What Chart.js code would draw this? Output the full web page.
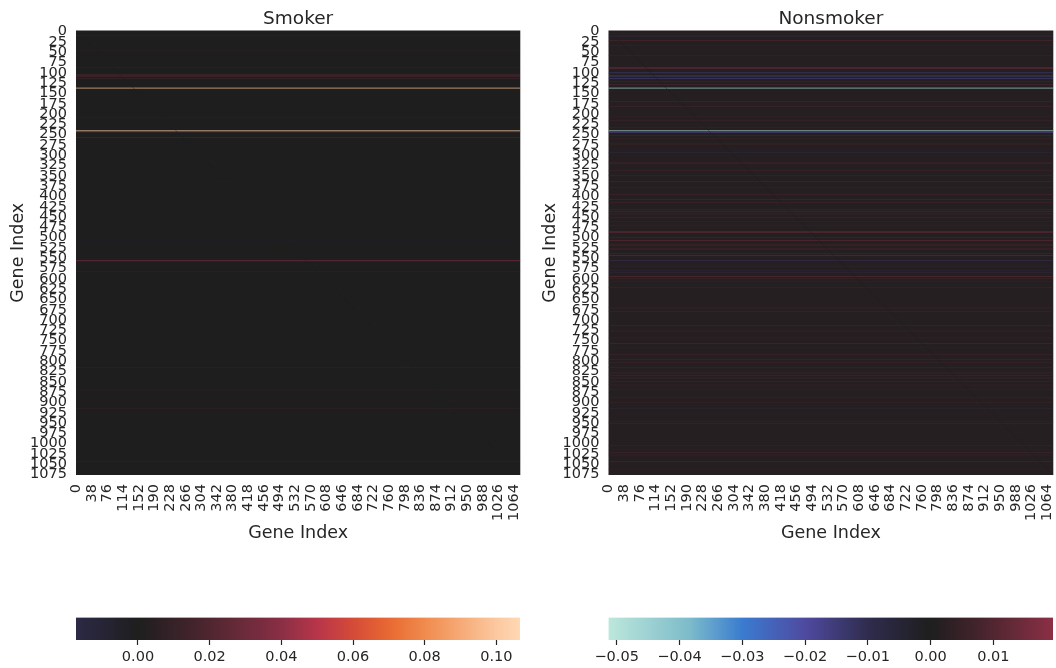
<!DOCTYPE html>
<html>
<head>
<meta charset="utf-8">
<script src="https://cdn.jsdelivr.net/npm/chart.js@4"></script>
<style>
  html, body { margin: 0; background: #fff; overflow: hidden; }
  canvas { position: absolute; }
</style>
</head>
<body>
<canvas id="smoker-map" width="541" height="546" style="left:0;top:0"></canvas>
<canvas id="nonsmoker-map" width="542" height="546" style="left:532px;top:0"></canvas>
<canvas id="smoker-bar" width="530" height="68" style="left:0;top:600px"></canvas>
<canvas id="nonsmoker-bar" width="523" height="68" style="left:532px;top:600px"></canvas>
<script>
const rowTicks = [0,25,50,75,100,125,150,175,200,225,250,275,300,325,350,375,400,425,450,475,500,525,550,575,600,625,650,675,700,725,750,775,800,825,850,875,900,925,950,975,1000,1025,1050,1075]
const colTicks = [0,38,76,114,152,190,228,266,304,342,380,418,456,494,532,570,608,646,684,722,760,798,836,874,912,950,988,1026,1064]
const geneCount = 1079

const smokerRows = [11,48,90,107,110,115,139,140,210,243,244,246,260,319,367,489,509,558,559,584,818,870,873,898,918,1046]
const smokerValues = [0.01,0.005,0.01,0.02,0.04,0.028,0.106,0.09,0.006,0.106,0.07,0.025,0.02,0.006,0.006,-0.005,-0.01,0.04,0.02,0.008,0.01,0.012,0.008,0.008,0.018,0.018]

const nonsmokerRows = [7,13,23,35,60,90,91,102,103,110,115,116,124,131,139,140,172,184,208,218,234,243,244,247,254,262,
  275,295,321,340,352,367,380,397,409,417,433,439,445,453,464,472,488,490,502,510,520,530,541,
  545,558,571,583,586,596,601,609,624,673,681,697,716,729,746,760,770,786,798,806,
  817,831,837,843,851,860,870,890,902,918,949,954,961,981,1007,1017,1024,1030,1046,1054,1066]
const nonsmokerValues = [0.008,-0.012,0.011,0.009,0.006,0.015,0.014,-0.015,-0.012,-0.024,-0.018,-0.015,0.008,0.01,-0.05,-0.04,0.008,0.008,0.007,0.007,0.008,-0.05,-0.025,-0.02,-0.015,0.01,
  0.008,-0.009,0.012,0.007,0.007,-0.014,0.006,0.008,0.01,0.007,0.014,0.011,0.009,0.008,0.008,0.008,0.014,0.014,0.009,0.014,0.012,0.011,0.009,
  0.015,-0.012,-0.007,-0.01,-0.012,0.014,0.006,0.007,0.006,0.007,0.007,0.004,0.013,0.007,0.006,0.011,0.006,0.007,0.008,0.006,
  -0.009,0.008,0.008,0.008,0.007,0.006,-0.01,0.008,0.006,-0.012,0.007,0.007,0.004,0.003,0.006,0.006,0.008,0.006,-0.014,0.004,0.004]

// level behind the listed rows
const smokerBase = 0
const nonsmokerBase = 0.0015

// self comparison runs corner to corner
const diagonalGenes = [0, 1079]

const smokerBarTicks = [0, 0.02, 0.04, 0.06, 0.08, 0.1]
const nonsmokerBarTicks = [-0.05, -0.04, -0.03, -0.02, -0.01, 0, 0.01]
const smokerLimits = [-0.0173, 0.1066]
const nonsmokerLimits = [-0.0513, 0.0195]

// icefire, by eye
const cmapStops = [0, 0.125, 0.208, 0.305, 0.4025, 0.5, 0.594, 0.688, 0.7345, 0.78, 0.83, 0.875, 0.97, 1]
const cmapColors = ['#bde7db', '#7dbcca', '#3a7bd0', '#4f4aa0', '#2f2c4e', '#1e1e1e', '#4f2630', '#8a2f45', '#b8354a', '#d44a38', '#e96a32', '#f08b4d', '#fcc9a0', '#ffd8b4']

const textColor = '#262626'
Chart.defaults.font.family = '"DejaVu Sans"'
Chart.defaults.color = textColor
Chart.defaults.animation = false

function hexToRgb(hex) {
  return [1, 3, 5].map(i => parseInt(hex.slice(i, i + 2), 16))
}

function cmap(t) {
  let i = 0
  while (i < cmapStops.length - 2 && t > cmapStops[i + 1]) i++
  const f = Math.max(0, Math.min(1, (t - cmapStops[i]) / (cmapStops[i + 1] - cmapStops[i])))
  const a = hexToRgb(cmapColors[i])
  const b = hexToRgb(cmapColors[i + 1])
  return `rgb(${a.map((c, k) => Math.round(c + (b[k] - c) * f)).join(',')})`
}

// seaborn centers the map on 0, range is the larger limit
function colorFor(value, range) {
  return cmap(0.5 + value / (2 * range))
}

function heatmap(id, title, rows, values, base, range, axisWidth) {
  const plotBackground = {
    id: 'plotBackground',
    beforeDatasetsDraw(chart) {
      const a = chart.chartArea
      chart.ctx.fillStyle = colorFor(base, range)
      chart.ctx.fillRect(a.left, a.top, a.width, a.height)
    }
  }
  return new Chart(document.getElementById(id), {
    type: 'bar',
    data: {
      datasets: [{
        type: 'line',
        data: diagonalGenes.map(v => ({ x: v, y: v })),
        borderColor: 'rgba(30, 30, 30, 0.8)',
        borderWidth: 0.6,
        pointRadius: 0,
        order: 0
      }, {
        data: rows.map(r => ({ y: r + 0.5, x: [0, geneCount] })),
        backgroundColor: values.map(v => colorFor(v, range)),
        borderWidth: 0,
        inflateAmount: 0,
        barThickness: 444 / geneCount,
        order: 1
      }]
    },
    options: {
      indexAxis: 'y',
      responsive: false,
      layout: { autoPadding: false },
      plugins: {
        legend: { display: false },
        tooltip: { enabled: false },
        title: { display: true, fullSize: false, text: title, font: { size: 18.5, weight: 'normal' }, color: textColor, padding: { top: 8.3, bottom: 0 } }
      },
      scales: {
        x: {
          type: 'linear',
          min: 0,
          max: geneCount,
          offset: false,
          grid: { display: false, drawTicks: false },
          border: { display: false },
          title: { display: true, text: 'Gene Index', font: { size: 17.5 }, color: textColor, padding: { top: 0, bottom: 2 } },
          afterFit(scale) { scale.height = 71 },
          afterBuildTicks(scale) { scale.ticks = colTicks.map(v => ({ value: v + 0.5 })) },
          ticks: {
            autoSkip: false,
            minRotation: 90,
            maxRotation: 90,
            padding: 9,
            font: { size: 14.5 },
            callback: value => String(value - 0.5)
          }
        },
        y: {
          type: 'linear',
          reverse: true,
          min: 0,
          max: geneCount,
          offset: false,
          grid: { display: false, drawTicks: false },
          border: { display: false },
          title: { display: true, text: 'Gene Index', font: { size: 17.5 }, color: textColor, padding: { top: 8, bottom: 0 } },
          afterFit(scale) { scale.width = axisWidth },
          afterBuildTicks(scale) { scale.ticks = rowTicks.map(v => ({ value: v + 0.5 })) },
          ticks: {
            autoSkip: false,
            padding: 9,
            labelOffset: 1,
            font: { size: 14.5 },
            callback: value => String(value - 0.5)
          }
        }
      }
    },
    plugins: [plotBackground]
  })
}

function colorbar(id, limits, tickValues, range, left, right) {
  return new Chart(document.getElementById(id), {
    type: 'bar',
    data: {
      labels: ['scale'],
      datasets: [{
        data: [limits],
        borderWidth: 0,
        barPercentage: 1,
        categoryPercentage: 1,
        backgroundColor(context) {
          const a = context.chart.chartArea
          if (!a) return cmap(0.5)
          const g = context.chart.ctx.createLinearGradient(a.left, 0, a.right, 0)
          for (let i = 0; i <= 60; i++) {
            const v = limits[0] + (limits[1] - limits[0]) * i / 60
            g.addColorStop(i / 60, colorFor(v, range))
          }
          return g
        }
      }]
    },
    options: {
      indexAxis: 'y',
      responsive: false,
      layout: { autoPadding: false, padding: { left, right, top: 17.5 } },
      plugins: { legend: { display: false }, tooltip: { enabled: false } },
      scales: {
        y: { display: false },
        x: {
          type: 'linear',
          min: limits[0],
          max: limits[1],
          grid: { drawOnChartArea: false, tickLength: 5, tickColor: textColor, tickWidth: 1.2 },
          border: { display: false },
          afterFit(scale) { scale.height = 28 },
          afterBuildTicks(scale) { scale.ticks = tickValues.map(v => ({ value: v })) },
          ticks: {
            autoSkip: false,
            maxRotation: 0,
            padding: 4,
            font: { size: 14.5 },
            callback: value => value.toFixed(2).replace('-', '\u2212')
          }
        }
      }
    }
  })
}

heatmap('smoker-map', 'Smoker', smokerRows, smokerValues, smokerBase, smokerLimits[1], 76)
heatmap('nonsmoker-map', 'Nonsmoker', nonsmokerRows, nonsmokerValues, nonsmokerBase, -nonsmokerLimits[0], 76.5)
colorbar('smoker-bar', smokerLimits, smokerBarTicks, smokerLimits[1], 76, 10)
colorbar('nonsmoker-bar', nonsmokerLimits, nonsmokerBarTicks, -nonsmokerLimits[0], 76.5, 2)
</script>
</body>
</html>
